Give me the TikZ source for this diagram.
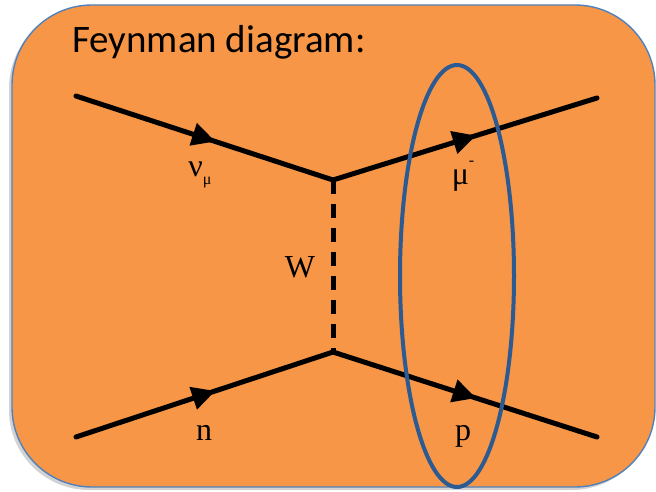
\documentclass[tikz,border=0pt]{standalone}
\usepackage{fontspec}
\setmainfont{Liberation Serif}
\newfontfamily\titlefont{Carlito}
\usetikzlibrary{decorations.markings,shadows,shapes.geometric}
\definecolor{boxorange}{HTML}{F79646}
\definecolor{boxblue}{HTML}{4F81BD}
\definecolor{ringblue}{HTML}{2C5A92}
\tikzset{
  fermion/.style={line width=5pt, line cap=round, postaction={decorate},
    decoration={markings, mark=at position 0.53 with {\fill (-20pt,-12pt) -- (3pt,0pt) -- (-20pt,12pt) -- cycle;}}},
  boson/.style={line width=5pt, dash pattern=on 14pt off 10pt},
  lbl/.style={font=\fontsize{32}{36}\selectfont, inner sep=0pt},
}
\begin{document}
\begin{tikzpicture}[x=1pt,y=-1pt]
\useasboundingbox (0,0) rectangle (656,492);
\draw[fill=boxorange, draw=boxblue, line width=1.4pt, rounded corners=80pt,
  drop shadow={shadow xshift=-3pt, shadow yshift=-3pt, opacity=0.35}]
  (12,5) rectangle (655,487);
\node[anchor=base west, inner sep=0pt, font=\titlefont\fontsize{39}{44}\selectfont] (title) at (72,53) {Feynman diagram:};
\coordinate (a) at (76,96);
\coordinate (b) at (597,98);
\coordinate (c) at (76,437);
\coordinate (d) at (597,437);
\coordinate (v1) at (333,180);
\coordinate (v2) at (333,352);
\draw[fermion] (a) -- (v1);
\draw[fermion] (v1) -- (b);
\draw[fermion] (c) -- (v2);
\draw[fermion] (v2) -- (d);
\draw[boson] (v1) -- (v2);
\node[lbl] (nu) at (200,175) {ν\raisebox{-0.25em}{\fontsize{16}{18}\selectfont μ}};
\node[lbl] (mu) at (463,176) {μ\raisebox{0.6em}{\fontsize{16}{18}\selectfont -}};
\node[lbl] (w) at (300,267) {W};
\node[lbl, anchor=base] (n) at (204,440) {n};
\node[lbl, anchor=base] (p) at (463,440) {p};
\node[draw=ringblue, line width=4pt, ellipse, minimum width=114pt, minimum height=422pt, inner sep=0pt] (ring) at (457,276) {};
\end{tikzpicture}
\end{document}
